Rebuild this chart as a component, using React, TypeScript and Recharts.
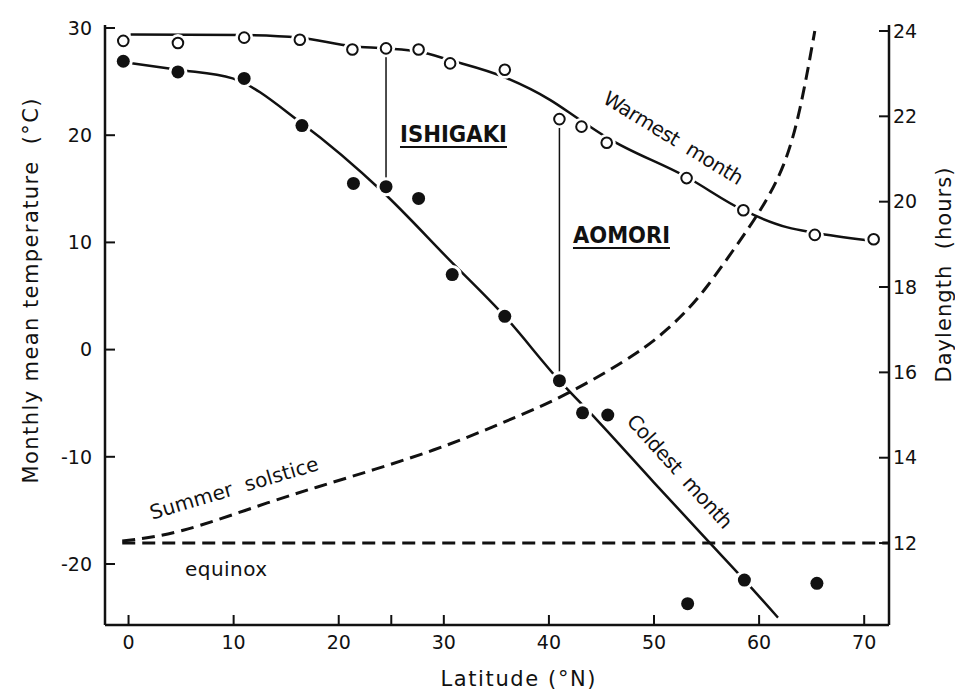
import { ComposedChart, Line, Scatter, XAxis, YAxis, ReferenceDot } from "recharts"

const FONT = "'DejaVu Sans', sans-serif"
const INK = "#111"

// stations: warmest month (open circles)
const warmLat = [-0.5, 4.7, 11.0, 16.3, 21.3, 24.5, 27.6, 30.6, 35.8, 41.0, 43.1, 45.5, 53.1, 58.5, 65.3, 70.9]
const warmTemp = [28.8, 28.6, 29.1, 28.9, 28.0, 28.1, 28.0, 26.7, 26.1, 21.5, 20.8, 19.3, 16.0, 13.0, 10.7, 10.3]

// stations: coldest month (filled circles)
const coldLat = [-0.5, 4.7, 11.0, 16.5, 21.4, 24.5, 27.6, 30.8, 35.8, 41.0, 43.2, 45.6, 53.2, 58.6, 65.5]
const coldTemp = [26.9, 25.9, 25.3, 20.9, 15.5, 15.2, 14.1, 7.0, 3.1, -2.9, -5.9, -6.1, -23.7, -21.5, -21.8]

// hand-fitted curves
const warmFitLat = [0.2, 10.9, 16.3, 21.3, 24.4, 27.6, 30.6, 35.8, 40.1, 43.0, 45.5, 53.1, 58.5, 62.7, 65.3, 70.3]
const warmFitTemp = [29.4, 29.35, 29.1, 28.3, 28.1, 27.8, 27.0, 25.4, 23.3, 21.4, 19.8, 16.1, 13.0, 11.4, 10.9, 10.2]
const coldFitLat = [0.3, 4.7, 9.9, 16.5, 24.2, 30.6, 35.8, 41.0, 44.6, 50.0, 55.0, 58.6, 61.8]
const coldFitTemp = [26.7, 26.1, 25.3, 21.1, 14.7, 8.3, 3.1, -2.9, -6.6, -12.4, -17.7, -21.5, -25.0]

// daylength (hours)
const solsticeLat = [-0.6, 5.2, 13.2, 21.1, 29.0, 35.4, 41.7, 48.0, 51.2, 53.1, 55.0, 57.5, 60.1, 62.3, 63.9, 65.3]
const solsticeHours = [12.05, 12.3, 12.94, 13.55, 14.18, 14.8, 15.5, 16.4, 17.0, 17.45, 18.0, 18.85, 19.8, 20.85, 22.2, 24.0]
const equinoxLat = [-0.6, 72.3]
const equinoxHours = [12, 12]

// Ishigaki and Aomori: [lat, warmest, coldest]
const ishigaki = [24.5, 28.1, 15.2]
const aomori = [41.0, 21.5, -2.9]

const latTicks = [0, 10, 20, 25, 30, 40, 50, 60, 70]
const tempTicks = [-20, -10, 0, 10, 20, 30]
const hourTicks = [12, 14, 16, 18, 20, 22, 24]

const warmPts = warmLat.map((lat, i) => ({ lat, temp: warmTemp[i] }))
const coldPts = coldLat.map((lat, i) => ({ lat, temp: coldTemp[i] }))
const warmFit = warmFitLat.map((lat, i) => ({ lat, temp: warmFitTemp[i] }))
const coldFit = coldFitLat.map((lat, i) => ({ lat, temp: coldFitTemp[i] }))
const solstice = solsticeLat.map((lat, i) => ({ lat, hours: solsticeHours[i] }))
const equinox = equinoxLat.map((lat, i) => ({ lat, hours: equinoxHours[i] }))
const ishigakiLine = [{ lat: ishigaki[0], temp: ishigaki[1] }, { lat: ishigaki[0], temp: ishigaki[2] }]
const aomoriLine = [{ lat: aomori[0], temp: aomori[1] }, { lat: aomori[0], temp: aomori[2] }]

const OpenDot = (p: any) => (
  <g>
    <circle cx={p.cx} cy={p.cy} r={9} fill="#fff" />
    <circle cx={p.cx} cy={p.cy} r={5.3} fill="#fff" stroke={INK} strokeWidth={2} />
  </g>
)

const FilledDot = (p: any) => (
  <g>
    <circle cx={p.cx} cy={p.cy} r={9.5} fill="#fff" />
    <circle cx={p.cx} cy={p.cy} r={6.5} fill={INK} />
  </g>
)

// rotated note centred on a data point
function note(text: string, angle: number, length: number) {
  return (props: any) => {
    const vb = props.viewBox
    const x = vb.x + (vb.width || 0) / 2
    const y = vb.y + (vb.height || 0) / 2
    return (
      <text
        x={x}
        y={y}
        transform={`rotate(${angle} ${x} ${y})`}
        textAnchor="middle"
        dominantBaseline="central"
        fontSize={20}
        fontFamily={FONT}
        fill={INK}
        textLength={length}
        lengthAdjust="spacing"
        style={{ whiteSpace: "pre" }}
      >
        {text}
      </text>
    )
  }
}

// underlined station name, starting at a data point (baseline)
function station(text: string, length: number) {
  return (props: any) => {
    const vb = props.viewBox
    const x = vb.x + (vb.width || 0) / 2
    const y = vb.y + (vb.height || 0) / 2
    return (
      <g>
        <text x={x} y={y} fontSize={23} fontWeight="bold" fontFamily={FONT} fill={INK} textLength={length} lengthAdjust="spacingAndGlyphs">
          {text}
        </text>
        <line x1={x} x2={x + length} y1={y + 5} y2={y + 5} stroke={INK} strokeWidth={2} />
      </g>
    )
  }
}

const tickStyle = { fill: INK, fontSize: 19, fontFamily: FONT }
const axisLine = { stroke: INK, strokeWidth: 2.5 }
const tickLine = { stroke: INK, strokeWidth: 2 }

export default function App() {
  return (
    <div style={{ position: "fixed", left: 0, top: 0, width: 955, height: 693, overflow: "hidden", background: "#fff" }}>
      <ComposedChart width={955} height={693} margin={{ top: 25, right: 11, bottom: 18, left: 45 }}>
        <XAxis
          type="number"
          dataKey="lat"
          domain={[-2.24, 72.36]}
          allowDataOverflow
          ticks={latTicks}
          interval={0}
          tickFormatter={(v) => (v === 25 ? "" : String(v))}
          tickSize={-10}
          tickMargin={21}
          axisLine={axisLine}
          tickLine={tickLine}
          tick={tickStyle}
          height={50}
          label={{
            content: () => (
              <text x={518} y={686} textAnchor="middle" fontSize={21} fontFamily={FONT} fill={INK} textLength={155} lengthAdjust="spacing" style={{ whiteSpace: "pre" }}>
                Latitude (°N)
              </text>
            ),
          }}
        />
        <YAxis
          yAxisId="left"
          type="number"
          domain={[-25.69, 30.28]}
          allowDataOverflow
          ticks={tempTicks}
          interval={0}
          tickSize={-10}
          tickMargin={23}
          axisLine={axisLine}
          tickLine={tickLine}
          tick={tickStyle}
          width={60}
          label={{
            content: () => (
              <text x={38} y={291} transform="rotate(-90 38 291)" textAnchor="middle" fontSize={21} fontFamily={FONT} fill={INK} textLength={385} lengthAdjust="spacing" style={{ whiteSpace: "pre" }}>
                Monthly mean temperature  (°C)
              </text>
            ),
          }}
        />
        <YAxis
          yAxisId="right"
          orientation="right"
          type="number"
          domain={[10.08, 24.14]}
          allowDataOverflow
          ticks={hourTicks}
          interval={0}
          tickSize={-10}
          tickMargin={14}
          axisLine={axisLine}
          tickLine={tickLine}
          tick={tickStyle}
          width={55}
          label={{
            content: () => (
              <text x={951} y={275} transform="rotate(-90 951 275)" textAnchor="middle" fontSize={21} fontFamily={FONT} fill={INK} textLength={215} lengthAdjust="spacing" style={{ whiteSpace: "pre" }}>
                Daylength  (hours)
              </text>
            ),
          }}
        />

        <Line yAxisId="right" data={equinox} dataKey="hours" type="linear" stroke={INK} strokeWidth={3} strokeDasharray="13 7" dot={false} activeDot={false} isAnimationActive={false} />
        <Line yAxisId="right" data={solstice} dataKey="hours" type="natural" stroke={INK} strokeWidth={3} strokeDasharray="13 7" dot={false} activeDot={false} isAnimationActive={false} />
        <Line yAxisId="left" data={warmFit} dataKey="temp" type="monotone" stroke={INK} strokeWidth={2.5} dot={false} activeDot={false} isAnimationActive={false} />
        <Line yAxisId="left" data={coldFit} dataKey="temp" type="monotone" stroke={INK} strokeWidth={2.5} dot={false} activeDot={false} isAnimationActive={false} />
        <Scatter yAxisId="left" data={warmPts} dataKey="temp" shape={OpenDot} isAnimationActive={false} />
        <Scatter yAxisId="left" data={coldPts} dataKey="temp" shape={FilledDot} isAnimationActive={false} />
        <Line yAxisId="left" data={ishigakiLine} dataKey="temp" type="linear" stroke={INK} strokeWidth={1.5} dot={false} activeDot={false} isAnimationActive={false} />
        <Line yAxisId="left" data={aomoriLine} dataKey="temp" type="linear" stroke={INK} strokeWidth={1.5} dot={false} activeDot={false} isAnimationActive={false} />

        <ReferenceDot yAxisId="left" x={25.83} y={19.37} r={0} label={station("ISHIGAKI", 107)} />
        <ReferenceDot yAxisId="left" x={42.29} y={9.94} r={0} label={station("AOMORI", 97)} />
        <ReferenceDot yAxisId="left" x={51.86} y={19.74} r={0} label={note("Warmest  month", 31.5, 160)} />
        <ReferenceDot yAxisId="left" x={52.47} y={-11.37} r={0} label={note("Coldest  month", 47.8, 146)} />
        <ReferenceDot yAxisId="left" x={10.04} y={-12.91} r={0} label={note("Summer  solstice", -16.6, 175)} />
        <ReferenceDot yAxisId="left" x={9.28} y={-20.47} r={0} label={note("equinox", 0, 82)} />
      </ComposedChart>
    </div>
  )
}
